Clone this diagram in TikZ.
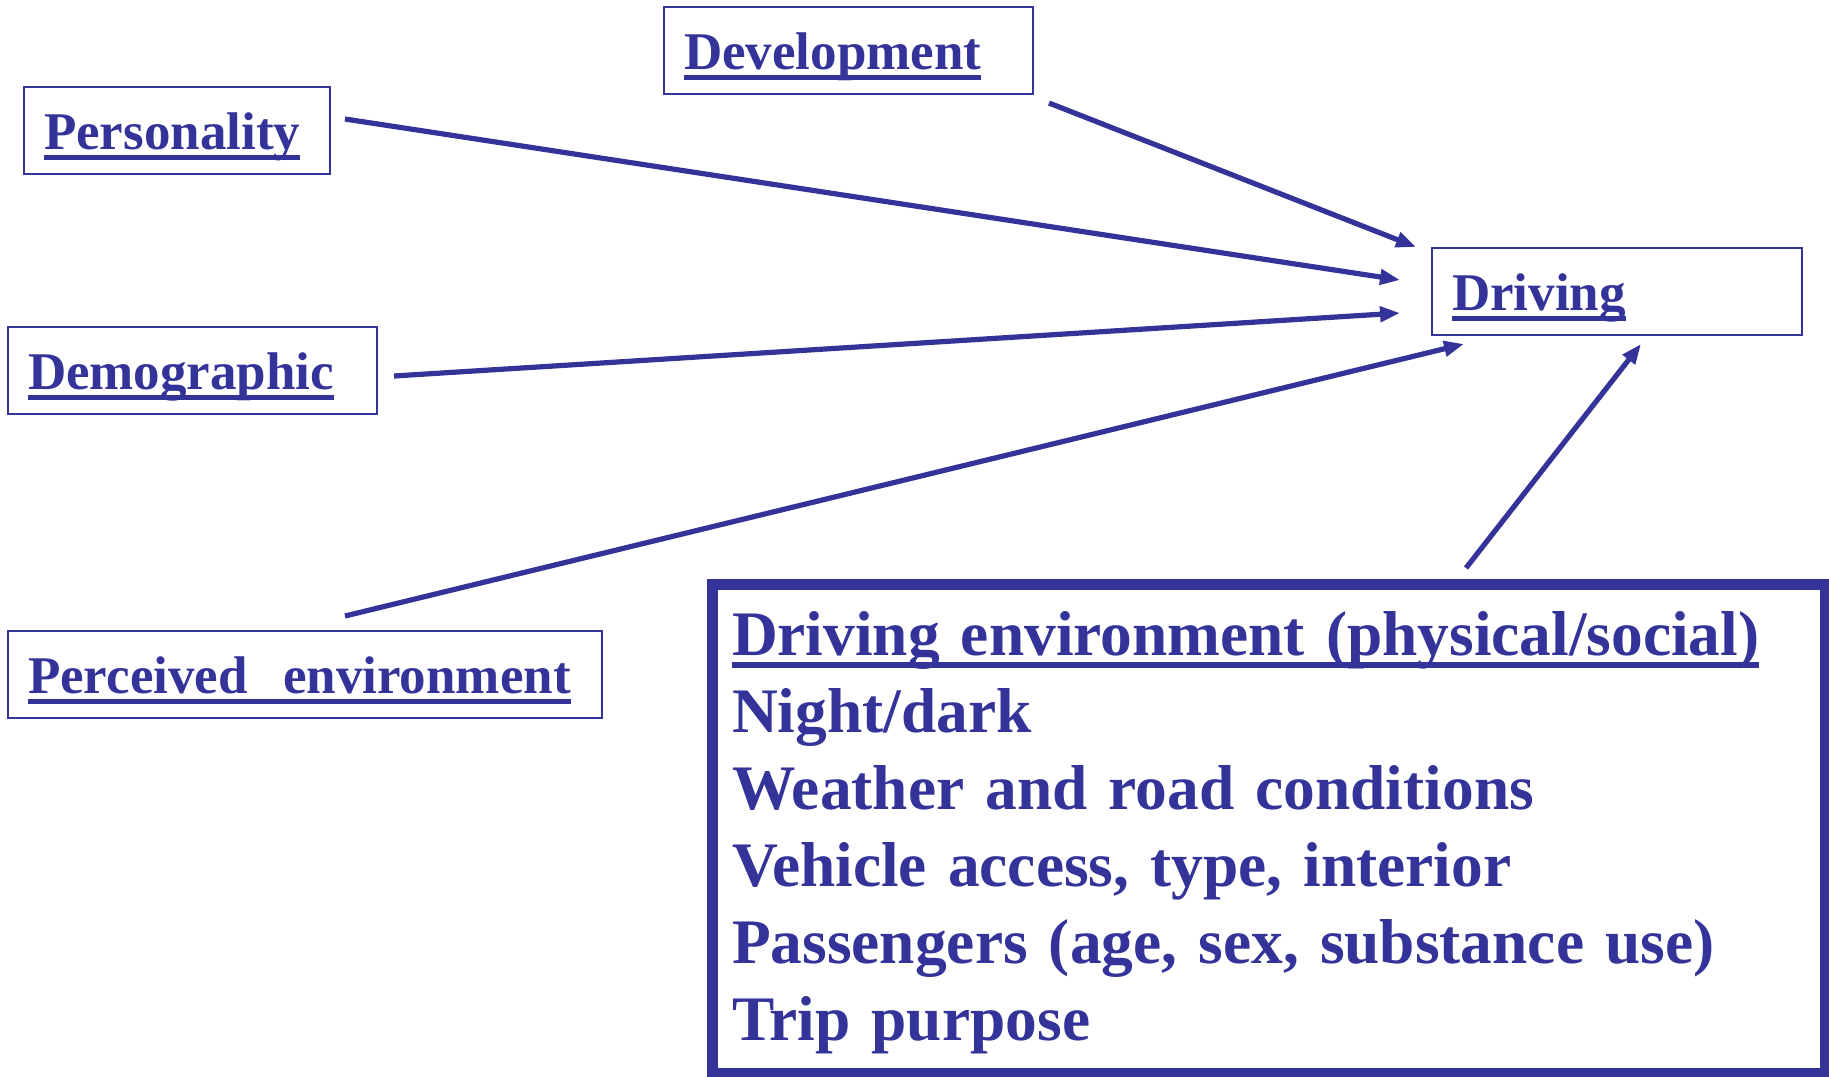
\documentclass[tikz,border=0pt]{standalone}
\usepackage{fontspec}
\setmainfont{Liberation Serif}
\usetikzlibrary{arrows.meta}
\definecolor{navy}{HTML}{333399}
\newcommand{\ulbox}[1]{\setbox0\hbox{#1}\rlap{\rule[-0.21em]{\wd0}{0.095em}}\box0}
\begin{document}
\begin{tikzpicture}[x=0.5pt,y=-0.5pt,
  box/.style={draw=navy,line width=1pt,text=navy,outer sep=0pt,inner xsep=10pt,inner ysep=0pt,text height=31pt,text depth=12.5pt,anchor=north west,align=left,font=\fontsize{26.5pt}{30pt}\selectfont\bfseries},
  envbox/.style={draw=navy,line width=5.5pt,text=navy,outer sep=0pt,inner xsep=10pt,inner ysep=0pt,text height=35.5pt,text depth=209pt,anchor=north west,align=left,text width=536.5pt,font=\fontsize{31.7pt}{38.5pt}\selectfont\bfseries},
  link/.style={-{Triangle[length=10pt,width=7.5pt]},draw=navy,line width=2.6pt}]
\useasboundingbox (0,0) rectangle (1829,1076);
\node[box,text width=133pt] (pers) at (24,87) {\ulbox{Personality}};
\node[box,text width=164.5pt] (dev) at (664,7) {\ulbox{Development}};
\node[box,text width=164.5pt] (demo) at (8,327) {\ulbox{Demographic}};
\node[box,text width=277pt] (perc) at (8,631) {\ulbox{Perceived\ \ environment}};
\node[box,text width=165pt] (driv) at (1432,248) {\ulbox{Driving}};
\node[envbox] (env) at (712,584) {\ulbox{Driving environment (physical/social)}\\
Night/dark\\
Weather and road conditions\\
Vehicle access, type, interior\\
Passengers (age, sex, substance use)\\
Trip purpose};
\coordinate (pers-out) at (345,119);
\coordinate (dev-out) at (1049,103);
\coordinate (demo-out) at (394,376);
\coordinate (perc-out) at (345,616);
\coordinate (env-out) at (1466,568);
\coordinate (driv-in1) at (1400,280);
\coordinate (driv-in2) at (1416,247);
\coordinate (driv-in3) at (1400,313);
\coordinate (driv-in4) at (1464,344);
\coordinate (driv-in5) at (1641,344);
\draw[link] (pers-out) -- (driv-in1);
\draw[link] (dev-out) -- (driv-in2);
\draw[link] (demo-out) -- (driv-in3);
\draw[link] (perc-out) -- (driv-in4);
\draw[link] (env-out) -- (driv-in5);
\end{tikzpicture}
\end{document}
